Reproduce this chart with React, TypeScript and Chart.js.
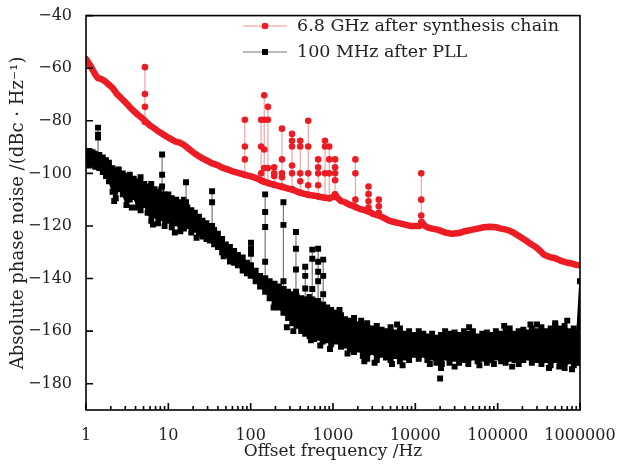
import React, { useEffect, useRef } from "react";
import { Chart, registerables } from "chart.js";
Chart.register(...registerables);

const FONT = "'DejaVu Serif', serif";
const RED = "#ec1c24";
const RED_LINE = "rgba(236,28,36,0.5)";

const xTicks = [1, 10, 100, 1000, 10000, 100000, 1000000];
const yTicks = [-180, -160, -140, -120, -100, -80, -60, -40];
const xMinorMultipliers = [2, 3, 4, 5, 6, 7, 8, 9];
const legendLabels = ["6.8 GHz after synthesis chain", "100 MHz after PLL"];

// red trace: 6.8 GHz after synthesis chain
const redFreq = [1, 1.1, 1.2, 1.3, 1.4, 1.55, 1.7, 1.9, 2.1, 2.4, 2.7, 3, 3.4, 3.8, 4.3, 4.8, 5.4, 6, 6.7, 7.5, 8.5, 9.5, 10.8, 12, 13.5, 15.5, 17.5, 20, 23, 26, 30, 34, 39, 45, 52, 60, 70, 80, 90, 105, 120, 135, 150, 175, 200, 230, 265, 300, 340, 390, 450, 520, 600, 700, 800, 900, 1000, 1060, 1120, 1250, 1400, 1600, 1800, 2100, 2400, 2700, 3100, 3600, 4200, 4800, 5500, 6500, 7500, 8700, 10000, 11300, 12000, 12800, 14000, 16000, 19000, 23000, 28000, 34000, 40000, 48000, 57000, 68000, 81000, 95000, 110000, 131000, 155000, 185000, 220000, 250000, 290000, 330000, 360000, 400000, 450000, 500000, 560000, 620000, 700000, 800000, 900000, 1000000];
const redLevel = [-56.5, -58.5, -60.5, -62.5, -63.8, -64.2, -65, -66.3, -67.5, -70, -71.5, -73, -74.8, -76.3, -77.8, -79, -80.5, -81.8, -82.8, -84, -85, -86, -87, -87.8, -88.2, -89.2, -90.5, -92, -93.3, -94.3, -95.3, -96.2, -96.8, -97.8, -98.5, -99.2, -99.8, -100.3, -100.8, -101.3, -102, -102.7, -103.3, -104, -104.5, -105, -105.5, -106, -106.5, -107.3, -107.8, -108.2, -108.5, -109, -109.3, -109.5, -109, -108, -109.2, -110.5, -111, -112, -112.5, -113.5, -114, -114.5, -115.5, -116, -117, -118, -118.5, -119, -119.5, -120, -120, -120, -118.5, -119.8, -120.5, -121, -121.5, -122.5, -123, -122.7, -122, -121.5, -121, -120.5, -120.3, -120.5, -121, -121.5, -122.5, -124, -125.5, -126.8, -128, -129.5, -130.8, -131.5, -132, -132.3, -133, -133.5, -134, -134.3, -134.8, -135];

const redSpurFreq = [5.2, 85, 134, 146, 162, 193, 240, 318, 400, 500, 660, 800, 900, 1060, 1870, 2700, 3600, 11800];
const redSpurLevels = [
  [-80.5, -74.7, -69.8, -59.6],
  [-100.6, -94.7, -89.8, -79.6],
  [-102.7, -100, -89.8, -79.6],
  [-103.3, -98, -90.9, -79.6, -70.3],
  [-103.7, -98, -79.6, -74.7],
  [-104.3, -101, -100, -97.7],
  [-105, -101.5, -100, -94.7, -83],
  [-106, -100, -97, -89.8, -87.6, -85],
  [-107.3, -103, -100, -89.8, -87.6],
  [-108.2, -104.5, -100, -89.8, -80],
  [-108.8, -104.5, -100, -97.7, -94.7],
  [-109.3, -100, -89.8, -87.6],
  [-109.5, -100, -94.7, -89.8],
  [-108, -102.6, -100, -97.7, -94.7],
  [-112.8, -110, -100, -94.7],
  [-114.5, -113, -110.6, -107.9, -105],
  [-116, -115, -112.5, -110],
  [-118.5, -116, -110, -100],
];

// black trace: 100 MHz after PLL (noise band upper / lower edges)
const blackFreq = [1, 1.1, 1.2, 1.3, 1.45, 1.6, 1.75, 1.9, 2.1, 2.3, 2.5, 2.8, 3.1, 3.4, 3.8, 4.2, 4.6, 5.1, 5.6, 6.2, 6.8, 7.5, 8.2, 9, 10, 11, 12.5, 14, 15.5, 17, 19, 21, 23.5, 26, 29, 32, 36, 40, 45, 50, 56, 63, 70, 80, 90, 100, 115, 130, 150, 170, 195, 220, 250, 285, 320, 360, 410, 460, 520, 590, 660, 750, 850, 950, 1100, 1250, 1400, 1600, 1800, 2050, 2300, 2600, 3000, 3400, 3900, 4400, 5000, 5700, 6500, 7400, 8400, 9500, 11000, 12500, 14000, 16000, 18000, 20500, 23000, 26000, 30000, 34000, 39000, 44000, 50000, 57000, 65000, 74000, 84000, 95000, 110000, 125000, 140000, 160000, 180000, 205000, 230000, 260000, 300000, 340000, 390000, 440000, 500000, 570000, 650000, 740000, 840000, 920000, 1000000];
const blackTop = [-92, -91.5, -92, -92.5, -93, -94, -95, -96, -98, -99, -98.5, -100, -101, -100.5, -102, -103, -101.5, -104, -105, -104, -106, -107, -106, -108, -108, -109.5, -110, -111, -110, -113, -114, -115, -116.5, -118, -119, -120, -121.5, -123, -125, -127, -128, -129.5, -131, -132, -134, -135, -137, -139, -140, -141, -142, -143, -144, -145, -146, -146.5, -147.5, -148, -147, -149, -148.5, -150, -151, -152, -153, -154, -155.5, -156, -155, -157.5, -158, -157, -159, -158, -159.5, -160, -158.5, -160.5, -159, -161, -160, -161.5, -160, -161, -162, -161, -162.5, -161.5, -160, -161, -160.5, -161.5, -160, -161, -160, -162, -161, -160.5, -161.5, -160, -161, -160, -159, -161, -160, -159.5, -160.5, -159, -160, -158.5, -160, -159, -157.5, -159, -158, -160, -159, -160.5, -141];
const blackBottom = [-96, -97, -96.5, -97.5, -98, -99.5, -101, -103, -107, -109.5, -106, -108, -112, -110, -109, -113, -114, -112, -115, -118, -116, -119, -117, -120, -118, -120.5, -119, -122, -121, -120, -122.5, -121.5, -123, -124, -125, -125.5, -127, -128, -130, -131, -133.5, -134, -135, -137, -138, -139, -141, -143, -145, -147.5, -149, -151, -153, -155, -157, -158, -160, -161, -162, -163, -162.5, -164, -163.5, -165, -164, -166, -165.5, -167, -168, -167, -169.5, -170.5, -168, -171, -169, -170, -171, -169.5, -171.5, -170, -171, -169, -170.5, -169, -171, -170, -172, -171, -170, -172, -170.5, -172, -171, -172.5, -170, -171.5, -170.5, -172, -171, -170, -171.5, -172, -170.5, -171, -172.5, -171, -170, -172, -171, -172.5, -171, -173, -171, -172, -174, -171.5, -173, -172, -172];

const blackSpurFreq = [1.4, 8.4, 16.4, 34, 101, 150, 250, 355, 460, 560, 660, 760];
const blackSpurLevels = [
  [-93, -86.4, -85.3, -82.6],
  [-108, -105, -100.5, -92.8],
  [-112, -111, -103.4],
  [-121, -120, -111, -106.8],
  [-135, -130.6, -128.7, -126.4],
  [-140, -133.6, -120.4, -114.7, -108],
  [-144, -141, -119.6, -111],
  [-146, -145, -136.6, -128.7, -122.3],
  [-148, -143.8, -139, -135.5],
  [-148, -144, -132.5, -129],
  [-148.5, -141, -137.4, -133.6, -128.7],
  [-150, -146, -139, -132.8],
];

const blackOutlierFreq = [2.2, 3.6, 6.5, 12, 22, 47, 190, 275, 330, 420, 540, 700, 920, 1200, 1300, 1500, 2200, 2400, 3200, 5200, 6000, 7000, 15000, 20000, 20500, 21000, 30000, 45000, 60000, 90000, 120000, 150000, 250000, 300000, 420000, 500000, 560000, 700000, 800000];
const blackOutlierLevel = [-110.5, -113, -119.5, -122.5, -124.5, -131.5, -151, -158.5, -160, -159, -163.5, -165.5, -166.8, -152, -165, -168.5, -156, -171.5, -172, -172.5, -157.5, -173, -172.5, -178, -174, -172.5, -173.5, -158.5, -173, -172.5, -158, -173.5, -157.5, -157.5, -174, -157, -173.5, -156, -174.5];

function spurPoints(freqs: number[], levels: number[][]) {
  const pts: { x: number; y: number | null }[] = [];
  freqs.forEach((f, i) => {
    levels[i].forEach((v) => pts.push({ x: f, y: v }));
    pts.push({ x: f, y: null });
  });
  return pts;
}

// closed outline of the black noise band: upper edge forward, lower edge back
function bandOutline() {
  const pts: { x: number; y: number }[] = [];
  blackFreq.forEach((f, i) => pts.push({ x: f, y: blackTop[i] }));
  for (let i = blackFreq.length - 1; i >= 0; i--) pts.push({ x: blackFreq[i], y: blackBottom[i] });
  return pts;
}

const framePlugin = {
  id: "frame",
  afterDatasetsDraw(chart: any) {
    const { ctx, chartArea: a, scales } = chart;
    ctx.save();
    ctx.strokeStyle = "#000";
    ctx.lineWidth = 1.6;
    ctx.strokeRect(a.left, a.top, a.right - a.left, a.bottom - a.top);
    ctx.beginPath();
    yTicks.forEach((v) => {
      const y = scales.y.getPixelForValue(v);
      ctx.moveTo(a.left, y);
      ctx.lineTo(a.left + 7, y);
    });
    xTicks.forEach((v, i) => {
      const x = scales.x.getPixelForValue(v);
      ctx.moveTo(x, a.bottom);
      ctx.lineTo(x, a.bottom - 7);
      if (i < xTicks.length - 1) {
        xMinorMultipliers.forEach((m) => {
          const xm = scales.x.getPixelForValue(v * m);
          ctx.moveTo(xm, a.bottom);
          ctx.lineTo(xm, a.bottom - 4);
        });
      }
    });
    ctx.stroke();
    ctx.restore();
  },
  afterDraw(chart: any) {
    const { ctx } = chart;
    ctx.save();
    ctx.font = "17.5px " + FONT;
    ctx.textBaseline = "middle";
    ctx.strokeStyle = RED_LINE;
    ctx.lineWidth = 1;
    ctx.beginPath();
    ctx.moveTo(243, 26);
    ctx.lineTo(287, 26);
    ctx.stroke();
    ctx.fillStyle = RED;
    ctx.beginPath();
    ctx.arc(265, 26, 3.3, 0, Math.PI * 2);
    ctx.fill();
    ctx.strokeStyle = "#777";
    ctx.beginPath();
    ctx.moveTo(243, 52);
    ctx.lineTo(287, 52);
    ctx.stroke();
    ctx.fillStyle = "#000";
    ctx.fillRect(262, 49, 6, 6);
    ctx.fillStyle = "#222";
    ctx.fillText(legendLabels[0], 297, 26);
    ctx.fillText(legendLabels[1], 297, 52);
    ctx.restore();
  },
};

export default function App() {
  const ref = useRef<HTMLCanvasElement>(null);
  useEffect(() => {
    document.body.style.margin = "0";
    const ctx = ref.current!.getContext("2d")!;
    const blackPoint = {
      pointStyle: "rect",
      pointRadius: 4.2,
      pointBackgroundColor: "#000",
      pointBorderWidth: 0,
    };
    const chart = new Chart(ctx, {
      type: "line",
      data: {
        datasets: [
          {
            data: redFreq.map((f, i) => ({ x: f, y: redLevel[i] })),
            borderColor: RED,
            borderWidth: 6.5,
            pointRadius: 0,
            borderJoinStyle: "round",
            borderCapStyle: "round",
            fill: false,
          },
          {
            data: spurPoints(redSpurFreq, redSpurLevels),
            borderColor: RED_LINE,
            borderWidth: 1,
            pointRadius: 3.3,
            pointBackgroundColor: RED,
            pointBorderWidth: 0,
            spanGaps: false,
            fill: false,
          },
          {
            data: spurPoints(blackSpurFreq, blackSpurLevels),
            borderColor: "#777",
            borderWidth: 1.2,
            spanGaps: false,
            fill: false,
            ...blackPoint,
          },
          {
            data: blackOutlierFreq.map((f, i) => ({ x: f, y: blackOutlierLevel[i] })),
            showLine: false,
            fill: false,
            ...blackPoint,
          },
          {
            data: bandOutline(),
            borderColor: "#000",
            borderWidth: 1.5,
            backgroundColor: "#000",
            fill: "shape",
            ...blackPoint,
          },
        ] as any,
      },
      options: {
        responsive: false,
        animation: false,
        devicePixelRatio: 1,
        layout: { padding: { left: 0, right: 50, top: 12, bottom: 0 } },
        elements: { line: { tension: 0 } },
        plugins: { legend: { display: false }, tooltip: { enabled: false } },
        scales: {
          x: {
            type: "logarithmic",
            min: 1,
            max: 1000000,
            grid: { display: false },
            border: { display: false },
            ticks: {
              autoSkip: false,
              maxRotation: 0,
              padding: 8,
              color: "#222",
              font: { family: FONT, size: 16 },
              callback: (v: any) => String(v),
            },
            afterBuildTicks: (s: any) => {
              s.ticks = xTicks.map((v) => ({ value: v }));
            },
            afterFit: (s: any) => {
              s.height = 57;
            },
            title: {
              display: true,
              text: "Offset frequency /Hz",
              color: "#222",
              font: { family: FONT, size: 17 },
              padding: { top: 0, bottom: 5 },
            },
          },
          y: {
            type: "linear",
            min: -190,
            max: -40,
            grid: { display: false },
            border: { display: false },
            ticks: {
              padding: 6,
              color: "#222",
              font: { family: FONT, size: 16 },
              callback: (v: any) => (v < 0 ? "\u2212" + Math.abs(v) : String(v)),
            },
            afterBuildTicks: (s: any) => {
              s.ticks = yTicks.map((v) => ({ value: v }));
            },
            afterFit: (s: any) => {
              s.width = 86;
            },
            title: {
              display: true,
              text: "Absolute phase noise /(dBc \u00b7 Hz\u207b\u00b9)",
              color: "#222",
              font: { family: FONT, size: 18 },
              padding: { top: 8, bottom: 0 },
            },
          },
        },
      },
      plugins: [framePlugin],
    } as any);
    return () => chart.destroy();
  }, []);
  return (
    <div style={{ width: 630, height: 467 }}>
      <canvas ref={ref} width={630} height={467} />
    </div>
  );
}
